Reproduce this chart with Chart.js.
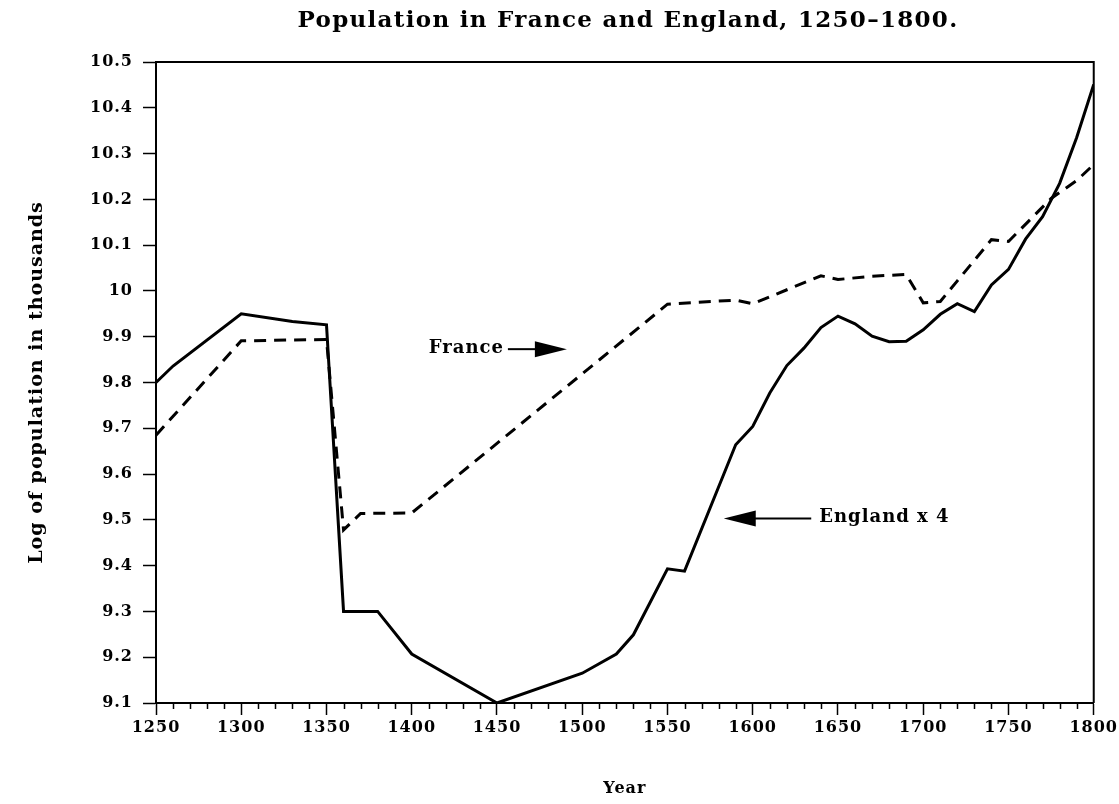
<!DOCTYPE html>
<html>
<head>
<meta charset="utf-8">
<script src="https://cdn.jsdelivr.net/npm/chart.js@4.4.1/dist/chart.umd.min.js"></script>
<style>
  html, body { margin: 0; padding: 0; background: #ffffff; }
  #wrap { width: 1119px; height: 804px; }
</style>
</head>
<body>
<div id="wrap"><canvas id="c" width="1119" height="804"></canvas></div>
<script>
// ---- data ----
const englandYears  = [1250, 1260, 1300, 1330, 1350, 1360, 1380, 1400, 1450, 1500, 1520, 1530, 1550, 1560, 1590, 1600, 1610, 1620, 1630, 1640, 1650, 1660, 1670, 1680, 1690, 1700, 1710, 1720, 1730, 1740, 1750, 1760, 1770, 1780, 1790, 1800];
const englandValues = [9.80, 9.836, 9.95, 9.933, 9.926, 9.30, 9.30, 9.207, 9.10, 9.165, 9.207, 9.249, 9.393, 9.388, 9.664, 9.704, 9.777, 9.837, 9.875, 9.920, 9.945, 9.928, 9.901, 9.889, 9.890, 9.915, 9.949, 9.972, 9.955, 10.013, 10.047, 10.113, 10.162, 10.235, 10.335, 10.451];

const franceYears  = [1250, 1300, 1350, 1360, 1370, 1400, 1550, 1590, 1600, 1640, 1650, 1670, 1690, 1700, 1710, 1720, 1740, 1750, 1775, 1790, 1800];
const franceValues = [9.685, 9.891, 9.894, 9.478, 9.514, 9.515, 9.971, 9.980, 9.972, 10.033, 10.025, 10.032, 10.036, 9.974, 9.977, 10.022, 10.112, 10.108, 10.202, 10.241, 10.276];

const xTickYears  = [1250, 1300, 1350, 1400, 1450, 1500, 1550, 1600, 1650, 1700, 1750, 1800];
const yTickValues = [9.1, 9.2, 9.3, 9.4, 9.5, 9.6, 9.7, 9.8, 9.9, 10.0, 10.1, 10.2, 10.3, 10.4, 10.5];
const yTickLabels = ['9.1', '9.2', '9.3', '9.4', '9.5', '9.6', '9.7', '9.8', '9.9', '10', '10.1', '10.2', '10.3', '10.4', '10.5'];

const titleText = 'Population in France and England, 1250\u20131800.';
const xTitle = 'Year';
const yTitle = 'Log of population in thousands';
const franceLabel = 'France';
const englandLabel = 'England x 4';

// ---- styles / layout ----
const FONT = "'DejaVu Serif', 'Liberation Serif', serif";
const AREA = { left: 156, right: 1097, top: 62, bottom: 703 };
const W = 1119, H = 804;
const TITLE_POS = { x: 628, y: 21 };

const toPoints = (xs, ys) => xs.map((x, i) => ({ x: x, y: ys[i] }));

// annotation anchors (data coordinates)
const notes = {
  france:  { textYear: 1410, value: 9.875, tipYear: 1491 },
  england: { textYear: 1639, value: 9.505, tipYear: 1583 }
};

const letterSpacingPlugin = {
  id: 'spacing',
  beforeDraw(chart) { chart.ctx.letterSpacing = '1px'; },
  afterDraw(chart) { chart.ctx.letterSpacing = '0px'; }
};

const titlePlugin = {
  id: 'plotTitle',
  afterDraw(chart) {
    const ctx = chart.ctx;
    ctx.save();
    ctx.letterSpacing = '1.3px';
    ctx.fillStyle = '#000';
    ctx.font = 'bold 23px ' + FONT;
    ctx.textAlign = 'center';
    ctx.textBaseline = 'middle';
    ctx.fillText(titleText, TITLE_POS.x, TITLE_POS.y);
    ctx.restore();
  }
};

const framePlugin = {
  id: 'frame',
  afterDatasetsDraw(chart) {
    const { ctx, chartArea: a, scales } = chart;
    ctx.save();
    ctx.strokeStyle = '#000';
    ctx.lineWidth = 2;
    ctx.beginPath();
    ctx.moveTo(a.left, a.top);
    ctx.lineTo(a.right, a.top);
    ctx.lineTo(a.right, a.bottom);
    ctx.stroke();
    // minor ticks on the x axis, every 10 years
    const xs = scales.x;
    ctx.lineWidth = 1.5;
    ctx.beginPath();
    for (let yr = xs.min; yr <= xs.max; yr += 10) {
      if ((yr - 1250) % 50 === 0) continue;
      const px = Math.round(xs.getPixelForValue(yr)) + 0.5;
      ctx.moveTo(px, a.bottom);
      ctx.lineTo(px, a.bottom + 6);
    }
    ctx.stroke();
    ctx.restore();
  }
};

function arrowHead(ctx, tipX, y, dir, len, half) {
  ctx.beginPath();
  ctx.moveTo(tipX, y);
  ctx.lineTo(tipX - dir * len, y - half);
  ctx.lineTo(tipX - dir * len, y + half);
  ctx.closePath();
  ctx.fill();
}

const notesPlugin = {
  id: 'notes',
  afterDatasetsDraw(chart) {
    const { ctx, scales } = chart;
    const xs = scales.x, ys = scales.y;
    ctx.save();
    ctx.fillStyle = '#000';
    ctx.strokeStyle = '#000';
    ctx.lineWidth = 2;
    ctx.font = 'bold 18px ' + FONT;
    ctx.textBaseline = 'middle';
    ctx.textAlign = 'left';

    // France ->
    let n = notes.france;
    let tx = xs.getPixelForValue(n.textYear);
    let ty = ys.getPixelForValue(n.value);
    ctx.fillText(franceLabel, tx, ty);
    let w = ctx.measureText(franceLabel).width;
    let tip = xs.getPixelForValue(n.tipYear);
    ctx.beginPath();
    ctx.moveTo(tx + w + 4, ty + 1);
    ctx.lineTo(tip - 30, ty + 1);
    ctx.stroke();
    arrowHead(ctx, tip, ty + 1, 1, 32, 8);

    // <- England x 4
    n = notes.england;
    tx = xs.getPixelForValue(n.textYear);
    ty = ys.getPixelForValue(n.value);
    ctx.fillText(englandLabel, tx, ty);
    tip = xs.getPixelForValue(n.tipYear);
    ctx.beginPath();
    ctx.moveTo(tip + 30, ty + 1);
    ctx.lineTo(tx - 8, ty + 1);
    ctx.stroke();
    arrowHead(ctx, tip, ty + 1, -1, 32, 8);
    ctx.restore();
  }
};

new Chart(document.getElementById('c'), {
  type: 'line',
  data: {
    datasets: [
      {
        label: 'England x 4',
        data: toPoints(englandYears, englandValues),
        borderColor: '#000',
        borderWidth: 3,
        pointRadius: 0,
        tension: 0,
        fill: false
      },
      {
        label: 'France',
        data: toPoints(franceYears, franceValues),
        borderColor: '#000',
        borderWidth: 3,
        borderDash: [12, 8],
        pointRadius: 0,
        tension: 0,
        fill: false
      }
    ]
  },
  options: {
    responsive: false,
    animation: false,
    layout: { padding: { left: 0, right: W - AREA.right, top: AREA.top, bottom: 0 } },
    plugins: {
      legend: { display: false },
      tooltip: { enabled: false },
      title: { display: false }
    },
    scales: {
      x: {
        type: 'linear',
        min: 1250,
        max: 1800,
        afterBuildTicks(s) { s.ticks = xTickYears.map(v => ({ value: v })); },
        afterFit(s) { s.height = H - AREA.bottom; },
        ticks: {
          color: '#000',
          font: { family: FONT, size: 16, weight: 'bold' },
          padding: 3,
          maxRotation: 0,
          autoSkip: false,
          callback: (v) => String(v)
        },
        grid: { drawOnChartArea: false, drawTicks: true, tickLength: 12, color: '#000', tickWidth: 1.5 },
        border: { display: true, color: '#000', width: 2 },
        title: {
          display: true,
          text: xTitle,
          color: '#000',
          font: { family: FONT, size: 16, weight: 'bold' },
          padding: { top: 0, bottom: 6 }
        }
      },
      y: {
        type: 'linear',
        min: 9.1,
        max: 10.5,
        afterBuildTicks(s) { s.ticks = yTickValues.map(v => ({ value: v })); },
        afterFit(s) { s.width = AREA.left; },
        ticks: {
          color: '#000',
          font: { family: FONT, size: 16, weight: 'bold' },
          padding: 10,
          autoSkip: false,
          callback: (v, i) => yTickLabels[i]
        },
        grid: { drawOnChartArea: false, drawTicks: true, tickLength: 13, color: '#000', tickWidth: 1.5 },
        border: { display: true, color: '#000', width: 2 },
        title: {
          display: true,
          text: yTitle,
          color: '#000',
          font: { family: FONT, size: 19, weight: 'bold' },
          padding: { top: 26, bottom: 0 }
        }
      }
    }
  },
  plugins: [letterSpacingPlugin, framePlugin, notesPlugin, titlePlugin]
});
</script>
</body>
</html>
